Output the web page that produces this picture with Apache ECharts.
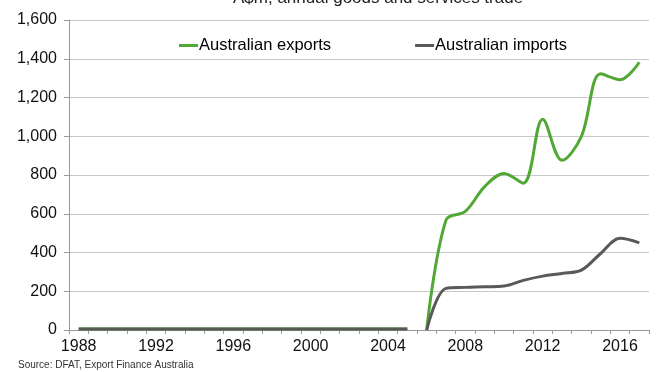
<!DOCTYPE html>
<html><head><meta charset="utf-8">
<script src="https://cdn.jsdelivr.net/npm/echarts@6/dist/echarts.min.js"></script>
<style>html,body{margin:0;padding:0;background:#fff}#c{width:659px;height:372px}</style>
</head><body><div id="c"></div>
<script>
const years = [];
for (let y = 1988; y <= 2017; y++) years.push(String(y));
// values 1988-2005 (flat near zero)
const earlyExports = [5,5,5,5,5,5,5,5,5,5,5,5,5,5,5,5,5,5];
const earlyImports = [5,5,5,5,5,5,5,5,5,5,5,5,5,5,5,5,5,5];
// values 2006-2017
const lateExports = [0,567,612,740,808,758,1088,876,998,1322,1292,1382];
const lateImports = [0,215,220,223,227,256,278,292,309,395,473,450];
const yTicks = [0,200,400,600,800,1000,1200,1400,1600];

const nEarly = earlyExports.length;
const pad = (arr, before, total) => {
  const out = new Array(total).fill(null);
  arr.forEach((v,i)=>{ out[before+i]=v; });
  return out;
};
const GREEN = '#52a835', GRAY = '#595959';
const chart = echarts.init(document.getElementById('c'));
const lineBase = {type:'line', showSymbol:false, symbol:'none', smooth:0.35, connectNulls:false};
chart.setOption({
  animation:false,
  textStyle:{fontFamily:'Liberation Sans, Arial, sans-serif'},
  grid:{left:69, right:10, top:20, bottom:42},
  legend:{
    data:['Australian exports','Australian imports'],
    top:32, left:174, itemGap:84, itemWidth:19, itemHeight:3, icon:'rect',
    textStyle:{fontSize:16.5, color:'#000', padding:[0,0,0,-4]}
  },
  graphic:[
    {type:'text', left:233, top:-10, style:{text:'A$m, annual goods and services trade', fontSize:17, fill:'#222', fontFamily:'Liberation Sans, Arial'}},
    {type:'text', left:18, top:360, style:{text:'Source: DFAT, Export Finance Australia', fontSize:10, fill:'#333', fontFamily:'Liberation Sans, Arial'}}
  ],
  xAxis:{
    type:'category', data:years, boundaryGap:true,
    axisLine:{lineStyle:{color:'#999'}},
    axisTick:{show:true, interval:0, length:4, lineStyle:{color:'#999'}},
    axisLabel:{interval:3, fontSize:16, color:'#111', margin:9},
    splitLine:{show:false}
  },
  yAxis:{
    type:'value', min:yTicks[0], max:yTicks[yTicks.length-1], interval:200,
    axisLine:{show:true, lineStyle:{color:'#999'}},
    axisTick:{show:true, length:5, lineStyle:{color:'#999'}},
    axisLabel:{fontSize:16, color:'#111', margin:12, formatter:v=>v.toLocaleString('en-US')},
    splitLine:{lineStyle:{color:'#c8c8c8', width:1.2}}
  },
  series:[
    Object.assign({}, lineBase, {name:'Australian exports', data:pad(earlyExports,0,years.length), lineStyle:{color:GREEN,width:3}, itemStyle:{color:GREEN}}),
    Object.assign({}, lineBase, {name:'Australian exports', data:pad(lateExports,nEarly,years.length), lineStyle:{color:GREEN,width:3}, itemStyle:{color:GREEN}}),
    Object.assign({}, lineBase, {name:'Australian imports', data:pad(earlyImports,0,years.length), lineStyle:{color:GRAY,width:3}, itemStyle:{color:GRAY}}),
    Object.assign({}, lineBase, {name:'Australian imports', data:pad(lateImports,nEarly,years.length), lineStyle:{color:GRAY,width:3}, itemStyle:{color:GRAY}})
  ]
});
</script></body></html>
